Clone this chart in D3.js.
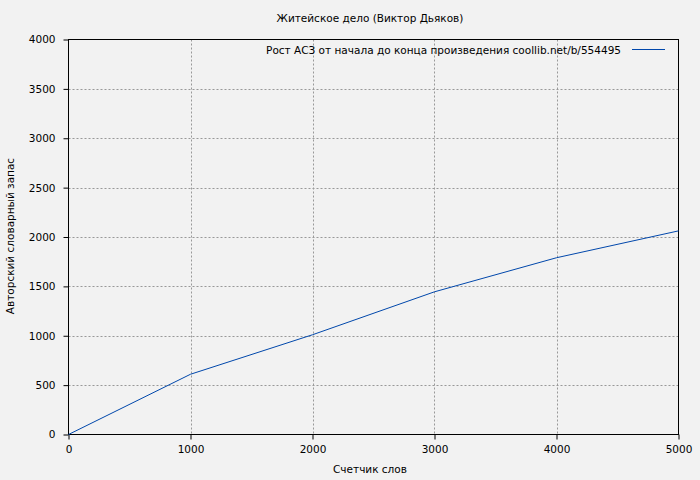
<!DOCTYPE html>
<html><head><meta charset="utf-8">
<script src="https://cdn.jsdelivr.net/npm/d3@7"></script>
<style>body{margin:0;background:#f2f2f2}svg{display:block}text{font-family:"DejaVu Sans",sans-serif;font-size:10.5px;fill:#000}</style>
</head><body>
<script>
const title = "Житейское дело (Виктор Дьяков)";
const xLabel = "Счетчик слов";
const yLabel = "Авторский словарный запас";
const legendLabel = "Рост АСЗ от начала до конца произведения coollib.net/b/554495";
const words = [0, 1000, 2000, 3000, 4000, 5000];
const vocab = [0, 610, 1010, 1445, 1790, 2062];
const xTicks = [0, 1000, 2000, 3000, 4000, 5000];
const yTicks = [0, 500, 1000, 1500, 2000, 2500, 3000, 3500, 4000];

const W = 700, H = 480;
const m = {l: 68.5, r: 678.5, t: 39.5, b: 434.5};
const svg = d3.select("body").append("svg").attr("width", W).attr("height", H);
svg.append("rect").attr("width", W).attr("height", H).attr("fill", "#f2f2f2");
const x = d3.scaleLinear().domain([0, 5000]).range([m.l, m.r]);
const y = d3.scaleLinear().domain([0, 4000]).range([m.b, m.t]);

// grid
const g = svg.append("g");
g.selectAll(".vg").data(xTicks.slice(1, -1)).join("line")
  .attr("x1", d => Math.round(x(d)) + 0.5).attr("x2", d => Math.round(x(d)) + 0.5)
  .attr("y1", m.t).attr("y2", m.b).attr("stroke", "#999").attr("stroke-dasharray", "2,2");
g.selectAll(".hg").data(yTicks.slice(1, -1)).join("line")
  .attr("y1", d => Math.round(y(d)) + 0.5).attr("y2", d => Math.round(y(d)) + 0.5)
  .attr("x1", m.l).attr("x2", m.r).attr("stroke", "#999").attr("stroke-dasharray", "2,2");

// axes
const xAxis = d3.axisBottom(x).tickValues(xTicks).tickSize(5).tickPadding(6).tickFormat(d3.format("d"));
const yAxis = d3.axisLeft(y).tickValues(yTicks).tickSize(5).tickPadding(8).tickFormat(d3.format("d"));
const gx = svg.append("g").attr("transform", `translate(0,${m.b})`).call(xAxis);
const gy = svg.append("g").attr("transform", `translate(${m.l},0)`).call(yAxis);
[gx, gy].forEach(a => {
  a.select(".domain").remove();
  a.selectAll("line").attr("stroke", "#000");
  a.selectAll("text").attr("font-family", "DejaVu Sans").attr("font-size", 10.5).attr("fill", "#000");
});
svg.append("rect").attr("x", m.l).attr("y", m.t).attr("width", m.r - m.l).attr("height", m.b - m.t)
  .attr("fill", "none").attr("stroke", "#000");

// line
const data = words.map((w, i) => [w, vocab[i]]);
svg.append("path").datum(data).attr("fill", "none").attr("stroke", "#0047ab").attr("stroke-width", 1)
  .attr("d", d3.line().x(d => x(d[0])).y(d => y(d[1])));

// texts
svg.append("text").attr("x", 370).attr("y", 22).attr("text-anchor", "middle").text(title);
svg.append("text").attr("x", 370).attr("y", 473).attr("text-anchor", "middle").text(xLabel);
svg.append("text").attr("transform", "translate(14,236) rotate(-90)").attr("text-anchor", "middle").text(yLabel);
svg.append("text").attr("x", 621).attr("y", 54).attr("text-anchor", "end").text(legendLabel);
svg.append("line").attr("x1", 632).attr("x2", 665).attr("y1", 49.5).attr("y2", 49.5).attr("stroke", "#0047ab");
</script>
</body></html>
